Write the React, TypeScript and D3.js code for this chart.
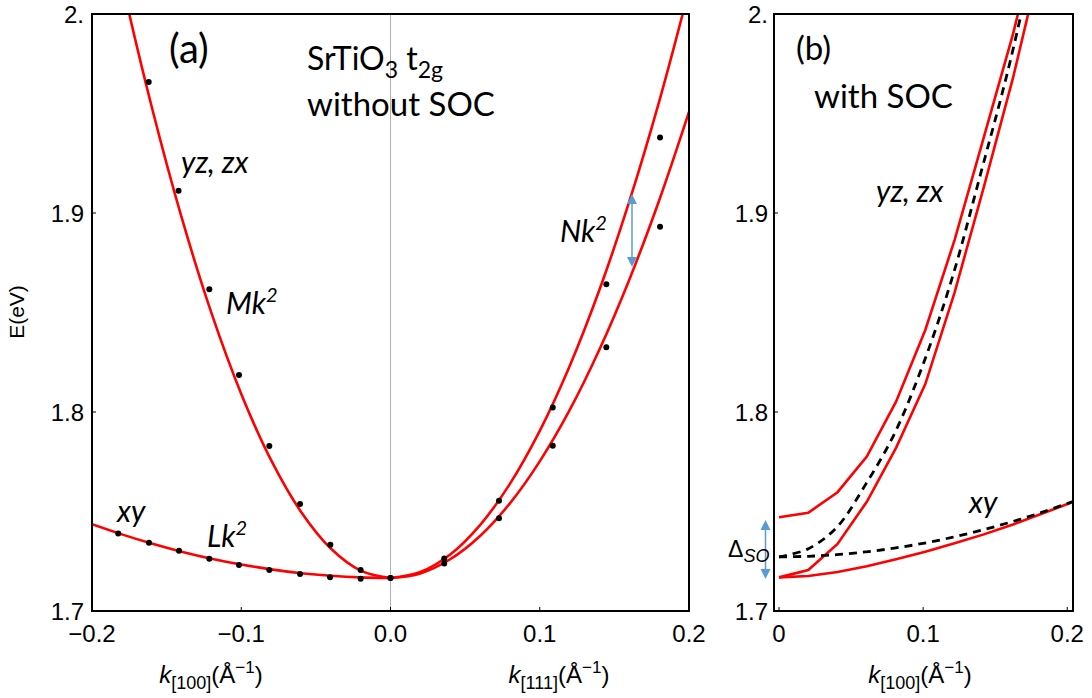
import React from "react";
import * as d3 from "d3";

// ---- panel (a): data points (black dots) ----
const dotsYzK = [-0.162, -0.142, -0.1214, -0.1015, -0.0812, -0.0606, -0.0403, -0.02, 0];
const dotsYzE = [1.9658, 1.9112, 1.8617, 1.8186, 1.7829, 1.7538, 1.7333, 1.7206, 1.7166];
const dotsXyK = [-0.1824, -0.1618, -0.1417, -0.1214, -0.1015, -0.0812, -0.0606, -0.0405, -0.02, 0];
const dotsXyE = [1.739, 1.7343, 1.7303, 1.7263, 1.7231, 1.7206, 1.7186, 1.717, 1.7162, 1.7166];
const dots111K = [0.036, 0.0727, 0.1087, 0.1446, 0.1806];
const dots111Upper = [1.7264, 1.7554, 1.8022, 1.8642, 1.938];
const dots111Lower = [1.7239, 1.7466, 1.7831, 1.8325, 1.8931];

// ---- panel (a): fitted curves ----
const fitK100 = [0, -0.02, -0.04, -0.06, -0.08, -0.1, -0.12, -0.14, -0.16, -0.18, -0.2];
const fitYz = [1.7166, 1.7203, 1.7314, 1.7499, 1.7758, 1.8091, 1.8498, 1.8979, 1.9534, 2.0163, 2.0866];
const fitXy = [1.7166, 1.7169, 1.7177, 1.719, 1.7209, 1.7234, 1.7263, 1.7298, 1.7339, 1.7385, 1.7436];
const fitK111 = [0, 0.02, 0.04, 0.06, 0.08, 0.1, 0.12, 0.14, 0.16, 0.18, 0.2];
const fitN1 = [1.7166, 1.7196, 1.7284, 1.7432, 1.7639, 1.7905, 1.823, 1.8614, 1.9058, 1.956, 2.0122];
const fitN2 = [1.7166, 1.7189, 1.726, 1.7377, 1.7541, 1.7752, 1.8009, 1.8314, 1.8665, 1.9063, 1.9508];

// ---- panel (b): with SOC ----
const socK = [0, 0.0203, 0.0406, 0.0609, 0.0812, 0.1015, 0.1218, 0.1421, 0.1624, 0.1827, 0.203];
const socUpper = [1.7471, 1.7494, 1.7597, 1.7776, 1.8052, 1.8412, 1.8864, 1.938, 1.99, 2.05, 2.12];
const socHeavy = [1.7169, 1.7206, 1.7337, 1.7549, 1.782, 1.814, 1.86, 1.913, 1.968, 2.03, 2.1];
const socLight = [1.7169, 1.7176, 1.7196, 1.7225, 1.726, 1.7298, 1.734, 1.7385, 1.7435, 1.749, 1.7545];
const dashK = [0, 0.02, 0.04, 0.06, 0.08, 0.1, 0.12, 0.14, 0.16, 0.18, 0.2, 0.21];
const dashHeavy = [1.7272, 1.7312, 1.742, 1.7635, 1.789, 1.824, 1.867, 1.92, 1.975, 2.04, 2.11, 2.15];
const dashLight = [1.7272, 1.7275, 1.7283, 1.7297, 1.7316, 1.734, 1.737, 1.7405, 1.7445, 1.749, 1.754, 1.7565];

const yTicks = [1.7, 1.8, 1.9, 2.0];
const yTickLabels = ["1.7", "1.8", "1.9", "2."];
const xTicksA = [-0.2, -0.1, 0, 0.1, 0.2];
const xTickLabelsA = ["\u22120.2", "\u22120.1", "0.0", "0.1", "0.2"];
const xTicksB = [0, 0.1, 0.2];
const xTickLabelsB = ["0", "0.1", "0.2"];

const RED = "#ff0000";
const BLUE = "#5b9bd5";
const TICKFONT = "'Liberation Sans', Arial, sans-serif";
const LABELFONT = "Lato, 'Open Sans', sans-serif";

const top = 14;
const bottom = 611;

const xa = d3.scaleLinear().domain([-0.2, 0.2]).range([92, 689]);
const xb = d3.scaleLinear().domain([-0.0035, 0.204]).range([774, 1073]);
const y = d3.scaleLinear().domain([1.7, 2.0]).range([bottom, top]);

const zip = (ks: number[], es: number[]) => ks.map((k, i) => [k, es[i]] as [number, number]);

function Arrow({ x, y1, y2 }: { x: number; y1: number; y2: number }) {
  const h = 10;
  const w = 5;
  return (
    <g fill={BLUE} stroke={BLUE}>
      <line x1={x} x2={x} y1={y1 + h} y2={y2 - h} strokeWidth={1.5} />
      <polygon points={`${x},${y1} ${x - w},${y1 + h} ${x + w},${y1 + h}`} stroke="none" />
      <polygon points={`${x},${y2} ${x - w},${y2 - h} ${x + w},${y2 - h}`} stroke="none" />
    </g>
  );
}

function Frame({ x0, x1 }: { x0: number; x1: number }) {
  return <rect x={x0} y={top} width={x1 - x0} height={bottom - top} fill="none" stroke="#000" strokeWidth={2} />;
}

function KLabel({ cx, sub }: { cx: number; sub: string }) {
  return (
    <text x={cx} y={683} textAnchor="middle" fontFamily={TICKFONT} fontSize={24}>
      <tspan fontStyle="italic">k</tspan>
      <tspan fontSize={18} dy={6}>{sub}</tspan>
      <tspan dy={-6}>(Å</tspan>
      <tspan fontSize={17} dy={-10}>{"\u22121"}</tspan>
      <tspan dy={10}>)</tspan>
    </text>
  );
}

export default function App() {
  const lineA = d3
    .line<[number, number]>()
    .x((d) => xa(d[0]))
    .y((d) => y(d[1]))
    .curve(d3.curveCatmullRom);
  const lineBLin = d3
    .line<[number, number]>()
    .x((d) => xb(d[0]))
    .y((d) => y(d[1]));
  const lineBSmooth = d3
    .line<[number, number]>()
    .x((d) => xb(d[0]))
    .y((d) => y(d[1]))
    .curve(d3.curveCatmullRom);

  const dotsA = [
    ...zip(dotsYzK, dotsYzE),
    ...zip(dotsXyK, dotsXyE),
    ...zip(dots111K, dots111Upper),
    ...zip(dots111K, dots111Lower),
  ];

  return (
    <svg
      width={1092}
      height={698}
      style={{ position: "absolute", left: 0, top: 0, background: "#fff" }}
    >
      <defs>
        <clipPath id="clipA">
          <rect x={92} y={top} width={597} height={bottom - top} />
        </clipPath>
        <clipPath id="clipB">
          <rect x={774} y={top} width={299} height={bottom - top} />
        </clipPath>
      </defs>

      {/* ---------- panel (a) ---------- */}
      <line x1={xa(0)} x2={xa(0)} y1={top} y2={bottom} stroke="#b0b0b0" strokeWidth={1} />
      <g clipPath="url(#clipA)" fill="none" stroke={RED} strokeWidth={2.6}>
        <path d={lineA(zip(fitK100, fitYz)) || ""} />
        <path d={lineA(zip(fitK100, fitXy)) || ""} />
        <path d={lineA(zip(fitK111, fitN1)) || ""} />
        <path d={lineA(zip(fitK111, fitN2)) || ""} />
      </g>
      <g fill="#000">
        {dotsA.map((d, i) => (
          <circle key={i} cx={xa(d[0])} cy={y(d[1])} r={3} />
        ))}
      </g>
      <Frame x0={92} x1={689} />
      {yTicks.map((t, i) => (
        <g key={"ya" + i}>
          <line x1={92} x2={96} y1={y(t)} y2={y(t)} stroke="#000" strokeWidth={1} />
          <text x={84} y={y(t) + 9} textAnchor="end" fontFamily={TICKFONT} fontSize={24}>
            {yTickLabels[i]}
          </text>
        </g>
      ))}
      {xTicksA.map((t, i) => (
        <g key={"xa" + i}>
          <line x1={xa(t)} x2={xa(t)} y1={bottom} y2={bottom - 4} stroke="#000" strokeWidth={1} />
          <text x={xa(t)} y={642} textAnchor="middle" fontFamily={TICKFONT} fontSize={24}>
            {xTickLabelsA[i]}
          </text>
        </g>
      ))}
      <KLabel cx={211} sub="[100]" />
      <KLabel cx={559} sub="[111]" />

      <g fontFamily={LABELFONT}>
        <text x={169} y={63} fontSize={40}>(a)</text>
        <text x={307} y={70} fontSize={32}>
          SrTiO<tspan fontSize={23} dy={8}>3</tspan>
          <tspan dy={-8}> t</tspan>
          <tspan fontSize={23} dy={8}>2g</tspan>
        </text>
        <text x={307} y={116} fontSize={33}>without SOC</text>
        <g fontStyle="italic" fontSize={30}>
          <text x={181} y={173}>yz, zx</text>
          <text x={226} y={314}>
            Mk<tspan fontSize={20} dy={-12}>2</tspan>
          </text>
          <text x={560} y={242}>
            Nk<tspan fontSize={20} dy={-12}>2</tspan>
          </text>
          <text x={117} y={522}>xy</text>
          <text x={207} y={547}>
            Lk<tspan fontSize={20} dy={-12}>2</tspan>
          </text>
        </g>
      </g>
      <Arrow x={632} y1={194} y2={267} />

      {/* ---------- panel (b) ---------- */}
      <g clipPath="url(#clipB)" fill="none">
        <g stroke={RED} strokeWidth={2.6}>
          <path d={lineBLin(zip(socK, socUpper)) || ""} />
          <path d={lineBLin(zip(socK, socHeavy)) || ""} />
          <path d={lineBLin(zip(socK, socLight)) || ""} />
        </g>
        <g stroke="#000" strokeWidth={2.8} strokeDasharray="8 6">
          <path d={lineBSmooth(zip(dashK, dashHeavy)) || ""} />
          <path d={lineBSmooth(zip(dashK, dashLight)) || ""} />
        </g>
      </g>
      <Frame x0={774} x1={1073} />
      {yTicks.map((t, i) => (
        <g key={"yb" + i}>
          <line x1={774} x2={778} y1={y(t)} y2={y(t)} stroke="#000" strokeWidth={1} />
          <text x={768} y={y(t) + 9} textAnchor="end" fontFamily={TICKFONT} fontSize={24}>
            {yTickLabels[i]}
          </text>
        </g>
      ))}
      {xTicksB.map((t, i) => (
        <g key={"xb" + i}>
          <line x1={xb(t)} x2={xb(t)} y1={bottom} y2={bottom - 4} stroke="#000" strokeWidth={1} />
          <text x={xb(t)} y={642} textAnchor="middle" fontFamily={TICKFONT} fontSize={24}>
            {xTickLabelsB[i]}
          </text>
        </g>
      ))}
      <KLabel cx={920} sub="[100]" />

      <g fontFamily={LABELFONT}>
        <text x={796} y={60} fontSize={33}>(b)</text>
        <text x={814} y={108} fontSize={33}>with SOC</text>
        <g fontStyle="italic" fontSize={30}>
          <text x={876} y={202}>yz, zx</text>
          <text x={969} y={513}>xy</text>
        </g>
      </g>
      <Arrow x={765.5} y1={520} y2={579} />
      <text x={728} y={557} fontFamily={TICKFONT} fontSize={23}>
        Δ<tspan fontStyle="italic" fontSize={18} dy={5}>SO</tspan>
      </text>

      {/* y axis title */}
      <text
        transform="translate(24,312) rotate(-90)"
        textAnchor="middle"
        fontFamily={TICKFONT}
        fontSize={21}
      >
        E(eV)
      </text>
    </svg>
  );
}
